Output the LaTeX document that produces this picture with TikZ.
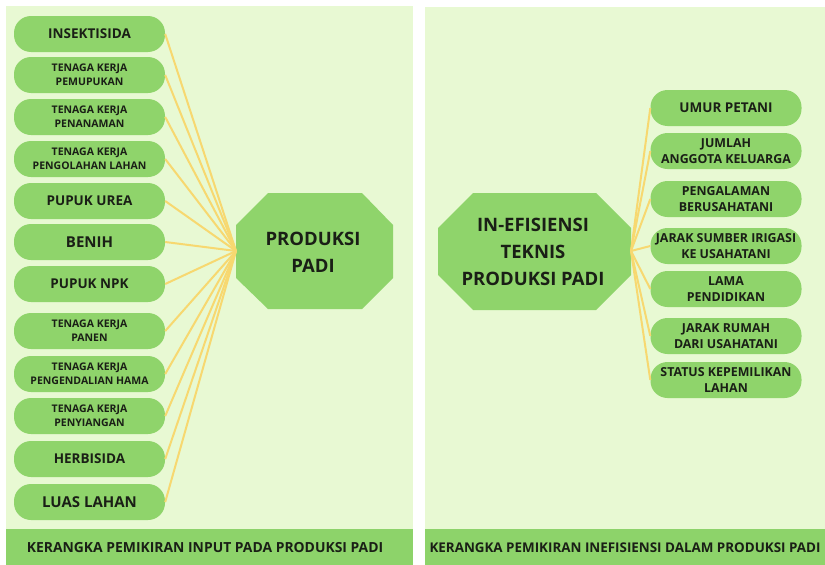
\documentclass[tikz,border=0pt]{standalone}
\usepackage{fontspec}
\setmainfont{Open Sans}
\definecolor{panelbg}{HTML}{E8F9D3}
\definecolor{pillgreen}{HTML}{8FD46B}
\definecolor{barbg}{HTML}{8DD36A}
\definecolor{linkyellow}{HTML}{F7D870}
\definecolor{ink}{HTML}{1A1F16}
\tikzset{
  pill/.style={fill=pillgreen, rounded corners=17pt, minimum width=151pt, minimum height=36pt,
    inner sep=0pt, align=center, text=ink, font=\bfseries\fontsize{13.5}{16}\selectfont},
  pillbig/.style={pill, font=\bfseries\fontsize{15}{18}\selectfont},
  pillsmall/.style={pill, font=\bfseries\fontsize{10.5}{14}\selectfont},
  pillmid/.style={pill, font=\bfseries\fontsize{12.4}{16.7}\selectfont},
  link/.style={draw=linkyellow, line width=2pt},
  hubtext/.style={align=center, text=ink, font=\bfseries\fontsize{18.5}{27}\selectfont},
  bartext/.style={text=ink, font=\bfseries\fontsize{13.9}{16}\selectfont},
}
\begin{document}
\begin{tikzpicture}[x=1pt, y=-1pt]
\useasboundingbox (0,0) rectangle (825,565);
\fill[white] (0,0) rectangle (825,565);
% two panels with their title bars
\fill[panelbg] (6,6) rectangle (413,565);
\fill[panelbg] (425,7) rectangle (825,565);
\fill[barbg] (6,529) rectangle (413,565);
\fill[barbg] (425,529) rectangle (825,565);
\node[bartext] (titleL) at (205,548) {KERANGKA PEMIKIRAN INPUT PADA PRODUKSI PADI};
\node[bartext, font=\bfseries\fontsize{13.4}{16}\selectfont] (titleR) at (625,548) {KERANGKA PEMIKIRAN INEFISIENSI DALAM PRODUKSI PADI};

% left: inputs -> produksi padi
\fill[pillgreen] (236,225) -- (268,193) -- (362,193) -- (393,225) -- (393,278) -- (362,309) -- (268,309) -- (236,278) -- cycle;
\node[hubtext] (produksi) at (313,252) {PRODUKSI\\PADI};
\coordinate (hubL) at (236,251);
\foreach \y/\name/\sty/\txt in {
    34/insektisida/pill/{INSEKTISIDA},
    75/tkpupuk/pillsmall/{TENAGA KERJA\\PEMUPUKAN},
    117/tktanam/pillsmall/{TENAGA KERJA\\PENANAMAN},
    159/tkolah/pillsmall/{TENAGA KERJA\\PENGOLAHAN LAHAN},
    201/urea/pill/{PUPUK UREA},
    242/benih/pillbig/{BENIH},
    284/npk/pill/{PUPUK NPK},
    331/tkpanen/pillsmall/{TENAGA KERJA\\PANEN},
    374/tkhama/pillsmall/{TENAGA KERJA\\PENGENDALIAN HAMA},
    416/tksiang/pillsmall/{TENAGA KERJA\\PENYIANGAN},
    459/herbisida/pill/{HERBISIDA},
    502/luas/pillbig/{LUAS LAHAN}}
  \node[\sty] (\name) at (89.5,\y) {\txt};
\foreach \name in {insektisida,tkpupuk,tktanam,tkolah,urea,benih,npk,tkpanen,tkhama,tksiang,herbisida,luas}
  \draw[link] (\name.east) -- (hubL);

% right: factors of inefficiency
\fill[pillgreen] (438,228) -- (473,193) -- (596,193) -- (631,228) -- (631,275) -- (596,310) -- (473,310) -- (438,275) -- cycle;
\node[hubtext] (inefisiensi) at (533,252) {IN-EFISIENSI\\TEKNIS\\PRODUKSI PADI};
\coordinate (hubR) at (631,251);
\foreach \y/\name/\sty/\txt in {
    108/umur/pill/{UMUR PETANI},
    151/keluarga/pillmid/{JUMLAH\\ANGGOTA KELUARGA},
    199/pengalaman/pillmid/{PENGALAMAN\\BERUSAHATANI},
    246/irigasi/pillmid/{JARAK SUMBER IRIGASI\\KE USAHATANI},
    289/pendidikan/pillmid/{LAMA\\PENDIDIKAN},
    336/rumah/pillmid/{JARAK RUMAH\\DARI USAHATANI},
    380/status/pillmid/{STATUS KEPEMILIKAN\\LAHAN}}
  \node[\sty] (\name) at (726,\y) {\txt};
\foreach \name in {umur,keluarga,pengalaman,irigasi,pendidikan,rumah,status}
  \draw[link] (hubR) -- (\name.west);
\end{tikzpicture}
\end{document}
